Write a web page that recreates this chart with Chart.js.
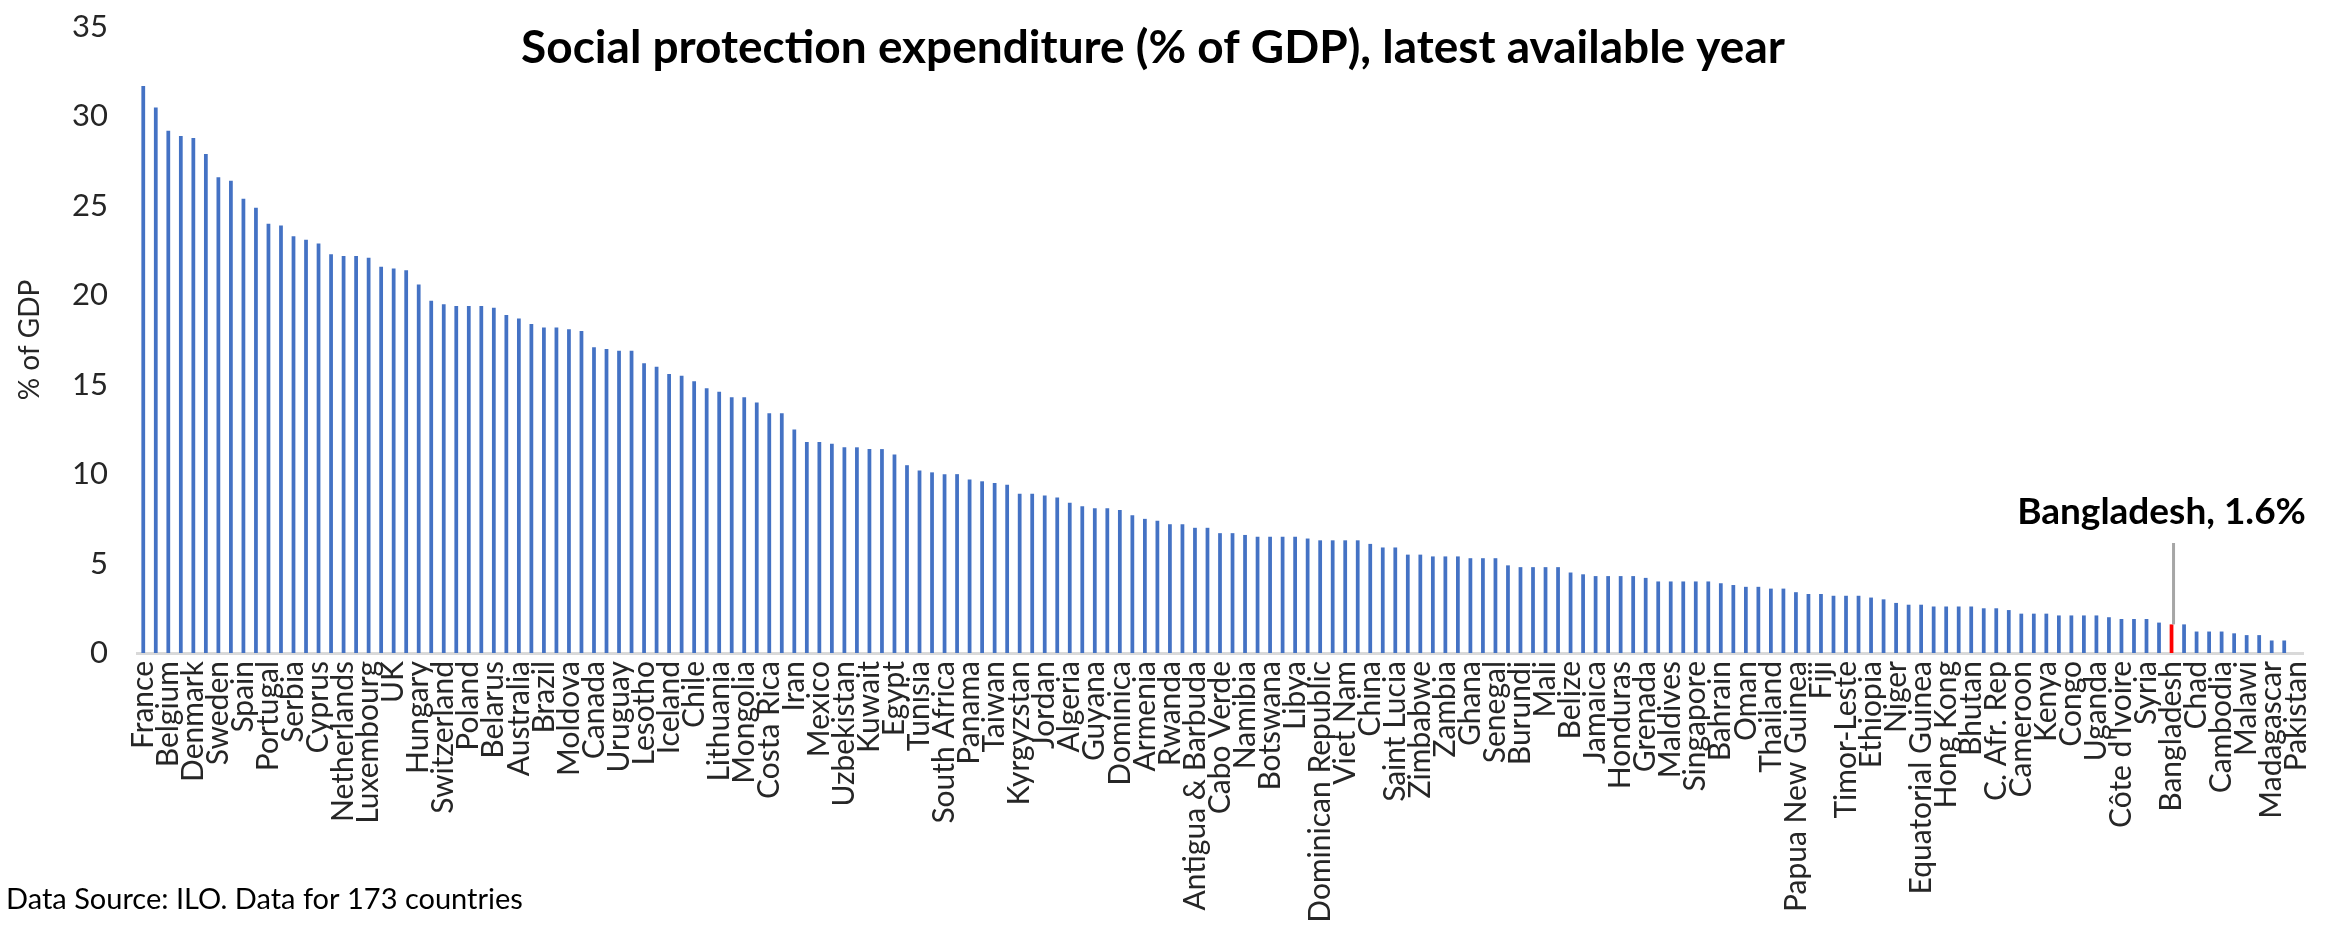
<!DOCTYPE html>
<html>
<head>
<meta charset="utf-8">
<title>Social protection expenditure</title>
<script src="https://cdn.jsdelivr.net/npm/chart.js@4.4.0/dist/chart.umd.min.js"></script>
<style>
    html, body { margin: 0; padding: 0; background: #ffffff; }
    canvas { display: block; }
</style>
</head>
<body>
<canvas id="spChart" width="2348" height="930"></canvas>
<script>
// Countries, sorted by spending. Only every other name is printed on the axis,
// the hidden ones could not be read from the source picture.
const countries = [
    'France', '', 'Belgium', '', 'Denmark', '', 'Sweden', '', 'Spain', '',
    'Portugal', '', 'Serbia', '', 'Cyprus', '', 'Netherlands', '', 'Luxembourg', '',
    'UK', '', 'Hungary', '', 'Switzerland', '', 'Poland', '', 'Belarus', '',
    'Australia', '', 'Brazil', '', 'Moldova', '', 'Canada', '', 'Uruguay', '',
    'Lesotho', '', 'Iceland', '', 'Chile', '', 'Lithuania', '', 'Mongolia', '',
    'Costa Rica', '', 'Iran', '', 'Mexico', '', 'Uzbekistan', '', 'Kuwait', '',
    'Egypt', '', 'Tunisia', '', 'South Africa', '', 'Panama', '', 'Taiwan', '',
    'Kyrgyzstan', '', 'Jordan', '', 'Algeria', '', 'Guyana', '', 'Dominica', '',
    'Armenia', '', 'Rwanda', '', 'Antigua & Barbuda', '', 'Cabo Verde', '', 'Namibia', '',
    'Botswana', '', 'Libya', '', 'Dominican Republic', '', 'Viet Nam', '', 'China', '',
    'Saint Lucia', '', 'Zimbabwe', '', 'Zambia', '', 'Ghana', '', 'Senegal', '',
    'Burundi', '', 'Mali', '', 'Belize', '', 'Jamaica', '', 'Honduras', '',
    'Grenada', '', 'Maldives', '', 'Singapore', '', 'Bahrain', '', 'Oman', '',
    'Thailand', '', 'Papua New Guinea', '', 'Fiji', '', 'Timor-Leste', '', 'Ethiopia', '',
    'Niger', '', 'Equatorial Guinea', '', 'Hong Kong', '', 'Bhutan', '', 'C. Afr. Rep', '',
    'Cameroon', '', 'Kenya', '', 'Congo', '', 'Uganda', '', "Côte d'Ivoire", '',
    'Syria', '', 'Bangladesh', '', 'Chad', '', 'Cambodia', '', 'Malawi', '',
    'Madagascar', '', 'Pakistan'
];

// % of GDP, same order as countries
const spending = [
    31.7, 30.5, 29.2, 28.9, 28.8, 27.9, 26.6, 26.4, 25.4, 24.9,
    24.0, 23.9, 23.3, 23.1, 22.9, 22.3, 22.2, 22.2, 22.1, 21.6,
    21.5, 21.4, 20.6, 19.7, 19.5, 19.4, 19.4, 19.4, 19.3, 18.9,
    18.7, 18.4, 18.2, 18.2, 18.1, 18.0, 17.1, 17.0, 16.9, 16.9,
    16.2, 16.0, 15.6, 15.5, 15.2, 14.8, 14.6, 14.3, 14.3, 14.0,
    13.4, 13.4, 12.5, 11.8, 11.8, 11.7, 11.5, 11.5, 11.4, 11.4,
    11.1, 10.5, 10.2, 10.1, 10.0, 10.0, 9.7, 9.6, 9.5, 9.4,
    8.9, 8.9, 8.8, 8.7, 8.4, 8.2, 8.1, 8.1, 8.0, 7.7,
    7.5, 7.4, 7.2, 7.2, 7.0, 7.0, 6.7, 6.7, 6.6, 6.5,
    6.5, 6.5, 6.5, 6.4, 6.3, 6.3, 6.3, 6.3, 6.1, 5.9,
    5.9, 5.5, 5.5, 5.4, 5.4, 5.4, 5.3, 5.3, 5.3, 4.9,
    4.8, 4.8, 4.8, 4.8, 4.5, 4.4, 4.3, 4.3, 4.3, 4.3,
    4.2, 4.0, 4.0, 4.0, 4.0, 4.0, 3.9, 3.8, 3.7, 3.7,
    3.6, 3.6, 3.4, 3.3, 3.3, 3.2, 3.2, 3.2, 3.1, 3.0,
    2.8, 2.7, 2.7, 2.6, 2.6, 2.6, 2.6, 2.5, 2.5, 2.4,
    2.2, 2.2, 2.2, 2.1, 2.1, 2.1, 2.1, 2.0, 1.9, 1.9,
    1.9, 1.7, 1.6, 1.6, 1.2, 1.2, 1.2, 1.1, 1.0, 1.0,
    0.7, 0.7, 0
];

const HIGHLIGHT = 'Bangladesh';
const TITLE = 'Social protection expenditure (% of GDP), latest available year';
const SOURCE_NOTE = 'Data Source: ILO. Data for 173 countries';

// Callout position, in y axis units
const CALLOUT_TEXT_AT = 7.9;
const CALLOUT_LINE_TOP = 6.15;

const BAR_BLUE = '#4472C4';
const BAR_RED = '#FF0000';
const FONT = 'Lato, "Open Sans", sans-serif';

const barColors = countries.map(name => name === HIGHLIGHT ? BAR_RED : BAR_BLUE);

/**
 * Draws the title, the source note and the Bangladesh callout
 * (the Excel original lets the title overlap the plot area)
 */
const chartTextPlugin = {
    id: 'chartText',
    afterDatasetsDraw(chart) {
        const ctx = chart.ctx;
        const yScale = chart.scales.y;
        const idx = countries.indexOf(HIGHLIGHT);
        const bar = chart.getDatasetMeta(0).data[idx];

        ctx.save();

        // leader line down to the highlighted bar
        ctx.strokeStyle = '#A6A6A6';
        ctx.lineWidth = 3;
        ctx.beginPath();
        ctx.moveTo(bar.x + 2, yScale.getPixelForValue(CALLOUT_LINE_TOP));
        ctx.lineTo(bar.x + 2, bar.y);
        ctx.stroke();

        ctx.fillStyle = '#000000';
        ctx.textBaseline = 'middle';

        ctx.font = `bold 37px ${FONT}`;
        ctx.textAlign = 'center';
        ctx.fillText(`${HIGHLIGHT}, ${spending[idx]}%`, bar.x - 10, yScale.getPixelForValue(CALLOUT_TEXT_AT));

        ctx.font = `bold 46px ${FONT}`;
        ctx.fillText(TITLE, 1153, 48);

        ctx.font = `29px ${FONT}`;
        ctx.textAlign = 'left';
        ctx.fillText(SOURCE_NOTE, 6, 900);

        ctx.restore();
    }
};

const SP_CHART_CONFIG = {
    type: 'bar',
    data: {
        labels: countries,
        datasets: [{
            label: '% of GDP',
            data: spending,
            backgroundColor: barColors,
            borderWidth: 0,
            barPercentage: 0.3,
            categoryPercentage: 1.0
        }]
    },
    options: {
        responsive: false,
        animation: false,
        devicePixelRatio: 1,
        layout: {
            padding: { top: 27, right: 45, bottom: 0, left: 0 }
        },
        plugins: {
            legend: { display: false },
            title: { display: false },
            tooltip: { enabled: false }
        },
        scales: {
            x: {
                grid: { display: false },
                border: { display: true, color: '#D9D9D9', width: 3 },
                ticks: {
                    autoSkip: false,
                    minRotation: 90,
                    maxRotation: 90,
                    padding: 0,
                    color: '#262626',
                    font: { family: FONT, size: 30 }
                },
                afterFit: scale => {
                    // fixed axis box so the plot area matches the original
                    scale.height = 277;
                    scale.paddingLeft = 0;
                    scale.paddingRight = 0;
                }
            },
            y: {
                min: 0,
                max: 35,
                grid: { display: false },
                border: { display: false },
                ticks: {
                    stepSize: 5,
                    padding: 21,
                    color: '#262626',
                    font: { family: FONT, size: 31 }
                },
                title: {
                    display: true,
                    text: '% of GDP',
                    color: '#262626',
                    font: { family: FONT, size: 28 },
                    padding: { top: 13, bottom: 0 }
                },
                afterFit: scale => {
                    scale.width = 137;
                    scale.paddingTop = 0;
                    scale.paddingBottom = 0;
                }
            }
        }
    },
    plugins: [chartTextPlugin]
};

const canvas = document.getElementById('spChart');
const spChart = new Chart(canvas.getContext('2d'), SP_CHART_CONFIG);
</script>
</body>
</html>
